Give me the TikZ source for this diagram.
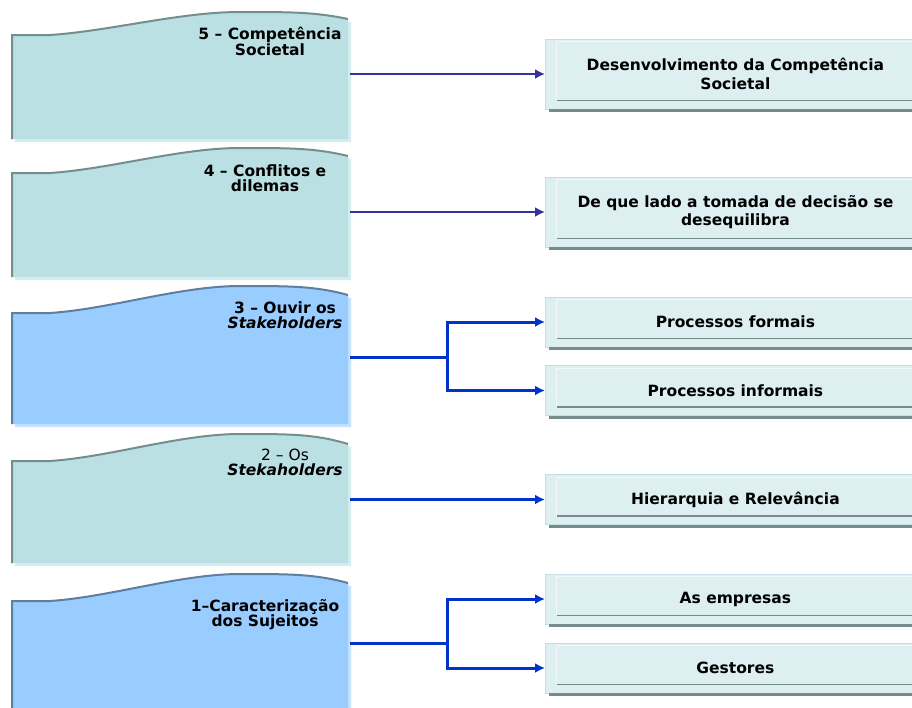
\documentclass[tikz,border=0pt]{standalone}
\usepackage{fontspec}
\setmainfont{DejaVu Sans}
\usetikzlibrary{arrows.meta,positioning}

\definecolor{tealfill}{HTML}{BBE0E3}
\definecolor{tealdark}{HTML}{748E8E}
\definecolor{tealshade}{HTML}{D6EDEF}
\definecolor{bluefill}{HTML}{99CCFF}
\definecolor{bluedark}{HTML}{5F7F9F}
\definecolor{blueshade}{HTML}{C6E2FF}
\definecolor{topicfill}{HTML}{DDEFF1}
\definecolor{topicedge}{HTML}{C2E0E3}
\definecolor{bardark}{HTML}{748C8C}
\definecolor{navy}{HTML}{333399}
\definecolor{royal}{HTML}{0033CC}

\tikzstyle{stagelabel} = [align=center, inner sep=0pt,
    font=\bfseries\fontsize{15.5}{15}\selectfont]
\tikzstyle{topic} = [rectangle, fill=topicfill, draw=topicedge, line width=0.8pt,
    minimum width=380pt, minimum height=50pt, anchor=west, align=center,
    font=\bfseries\fontsize{15.5}{18.5}\selectfont]
\tikzstyle{line} = [draw, -{Latex[length=10pt,width=10pt]}]
\tikzstyle{navyline} = [line, navy, line width=2pt]
\tikzstyle{blueline} = [line, royal, line width=3pt]

% wavy top of a stage, from the left corner to the right corner
\newcommand{\wave}[3]{(12,#1) -- (50,#1) .. controls (110,#1-4) and (180,#2) .. (240,#2) .. controls (290,#2) and (315,#2) .. (348,#3)}
% stage: left top, peak, right top, bottom, colour set
\newcommand{\stage}[5]{%
    \fill[#5shade, shift={(3,3)}] \wave{#1}{#2}{#3} -- (348,#4) -- (12,#4) -- cycle;
    \fill[#5fill] \wave{#1}{#2}{#3} -- (348,#4) -- (12,#4) -- cycle;
    \draw[#5dark, line width=2pt] (12,#4) -- \wave{#1}{#2}{#3};
}
% bars under a topic box
\newcommand{\topicbar}[1]{%
    \draw[bardark, line width=3pt] ([xshift=4pt,yshift=-1.5pt]#1.south west) -- ++(400,0);
    \draw[bardark, line width=1.5pt] ([xshift=12pt,yshift=9pt]#1.south west) -- ++(400,0);
    \draw[white!55!topicfill, line width=1pt] ([xshift=11pt,yshift=9pt]#1.south west) |- ([yshift=-3pt]#1.north east);
}

\begin{document}
\begin{tikzpicture}[x=1pt, y=-1pt]
    \useasboundingbox (0,0) rectangle (912,707);
    \clip (0,0) rectangle (912,707);
    \fill[white] (0,0) rectangle (912,707);

    % stages
    \stage{35}{12}{19}{139}{teal}
    \stage{173}{148}{156}{277}{teal}
    \stage{313}{286}{295}{424}{blue}
    \stage{461}{434}{444}{563}{teal}
    \stage{601}{574}{583}{712}{blue}

    \node [stagelabel] (t5) at (270,41.5) {5 -- Competência\\Societal};
    \node [stagelabel] (t4) at (265,178.5) {4 -- Conflitos e\\dilemas};
    \node [stagelabel] (t3) at (285,315) {3 -- Ouvir os\\\textit{Stakeholders}};
    \node [stagelabel] (t2) at (285,462.5) {{\mdseries 2 -- Os}\\\textit{Stekaholders}};
    \node [stagelabel] (t1) at (265,614.5) {1--Caracterização\\dos Sujeitos};

    \coordinate (s5) at (350,74);
    \coordinate (s4) at (350,212);
    \coordinate (s3) at (350,357);
    \coordinate (s2) at (350,499.5);
    \coordinate (s1) at (350,643);
    \coordinate (j3) at (447,357);
    \coordinate (j1) at (447,643);

    % topics
    \node [topic, minimum height=70pt] (b5) at (545,74) {Desenvolvimento da Competência\\Societal};
    \node [topic, minimum height=70pt] (b4) at (545,212) {De que lado a tomada de decisão se\\desequilibra};
    \node [topic] (b3a) at (545,322) {Processos formais};
    \node [topic] (b3b) at (545,390.5) {Processos informais};
    \node [topic] (b2) at (545,499.5) {Hierarquia e Relevância};
    \node [topic] (b1a) at (545,599) {As empresas};
    \node [topic] (b1b) at (545,668) {Gestores};

    \topicbar{b5} \topicbar{b4} \topicbar{b3a} \topicbar{b3b}
    \topicbar{b2} \topicbar{b1a} \topicbar{b1b}

    \path [navyline] (s5) -- (b5.west);
    \path [navyline] (s4) -- (b4.west);
    \path [blueline] (s3) -- (j3) |- (b3a.west);
    \path [blueline] (j3) |- (b3b.west);
    \path [blueline] (s2) -- (b2.west);
    \path [blueline] (s1) -- (j1) |- (b1a.west);
    \path [blueline] (j1) |- (b1b.west);
\end{tikzpicture}
\end{document}
